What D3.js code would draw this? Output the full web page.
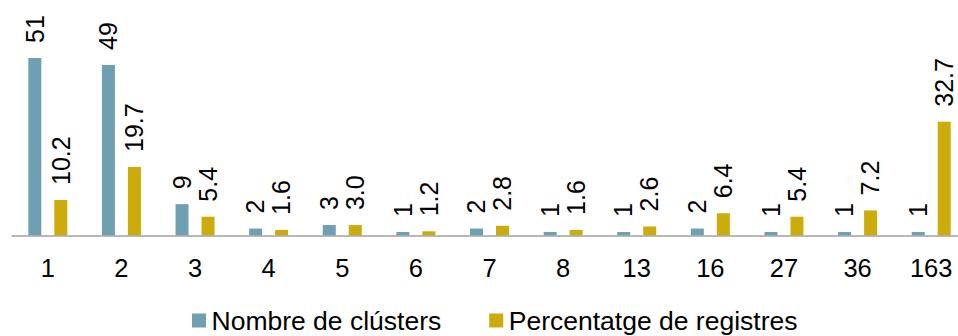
<!DOCTYPE html>
<html>
<head>
<meta charset="utf-8">
<script src="https://cdn.jsdelivr.net/npm/d3@7"></script>
<style>
  html, body { margin: 0; padding: 0; background: #fff; }
  svg { display: block; font-family: "Liberation Sans", Arial, sans-serif; }
</style>
</head>
<body>
<svg id="chart" width="958" height="336"></svg>
<script>
// Cluster sizes (number of records per cluster)
const categories = ["1", "2", "3", "4", "5", "6", "7", "8", "13", "16", "27", "36", "163"];
// Number of clusters having each size
const clusterCounts = [51, 49, 9, 2, 3, 1, 2, 1, 1, 2, 1, 1, 1];
// Share of records (%) falling in clusters of each size
const recordShares = [10.2, 19.7, 5.4, 1.6, 3.0, 1.2, 2.8, 1.6, 2.6, 6.4, 5.4, 7.2, 32.7];
const seriesNames = ["Nombre de clústers", "Percentatge de registres"];
const seriesColors = ["#6ea0b1", "#ccac0b"];
const seriesLabelFormat = [d3.format("d"), d3.format(".1f")];

const series = [clusterCounts, recordShares];

const svg = d3.select("#chart");
const baseY = 235.5;

const x = d3.scaleBand().domain(categories).range([11, 968]).padding(0);
const inner = d3.scaleBand().domain(d3.range(series.length))
  .range([-19.5, 19.5]).paddingInner(0.5).paddingOuter(0);
const y = d3.scaleLinear().domain([0, 51]).range([baseY, 58]);

const groups = svg.append("g").selectAll("g")
  .data(categories)
  .join("g")
  .attr("transform", d => `translate(${x(d) + x.bandwidth() / 2},0)`);

series.forEach((vals, s) => {
  groups.append("rect")
    .attr("x", inner(s))
    .attr("width", inner.bandwidth())
    .attr("y", (d, i) => y(vals[i]))
    .attr("height", (d, i) => baseY - y(vals[i]))
    .attr("fill", seriesColors[s]);

  groups.append("text")
    .attr("transform", (d, i) =>
      `translate(${inner(s) + inner.bandwidth() / 2},${y(vals[i]) - 15}) rotate(-90)`)
    .attr("dy", "0.35em")
    .attr("text-anchor", "start")
    .attr("font-size", 25)
    .attr("fill", "#000")
    .text((d, i) => seriesLabelFormat[s](vals[i]));
});

// Category axis
const xAxis = svg.append("g")
  .attr("transform", `translate(0,${baseY})`)
  .call(d3.axisBottom(x).tickSize(0).tickPadding(0));
xAxis.select(".domain").attr("stroke", "#a0a0a0").attr("stroke-width", 1.5);
xAxis.selectAll(".tick text")
  .attr("font-size", 25.5)
  .attr("font-family", "Liberation Sans, Arial, sans-serif")
  .attr("fill", "#000")
  .attr("dy", null)
  .attr("y", 41.5);

// Legend
const legend = svg.append("g");
let cursor = 192;
seriesNames.forEach((name, s) => {
  const item = legend.append("g").attr("transform", `translate(${cursor},0)`);
  item.append("rect")
    .attr("x", 0).attr("y", 313.5)
    .attr("width", 14).attr("height", 14)
    .attr("fill", seriesColors[s]);
  const t = item.append("text")
    .attr("x", 19.5).attr("y", 330)
    .attr("font-size", 26.5)
    .attr("fill", "#000")
    .text(name);
  cursor += 19.5 + t.node().getComputedTextLength() + 48;
});
</script>
</body>
</html>
